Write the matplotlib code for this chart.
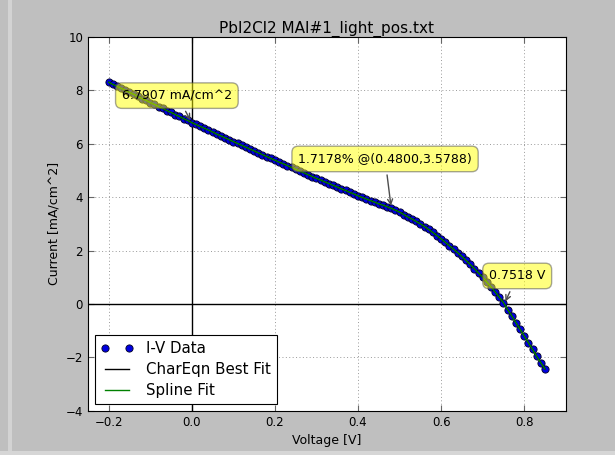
import numpy as np
import matplotlib
matplotlib.use("Agg")
import matplotlib.pyplot as plt
from matplotlib.patches import Rectangle

# ============================================================
# Données
# ============================================================
tension = np.round(np.arange(-0.20, 0.851, 0.01), 2)
courant = [
    8.30, 8.22, 8.15, 8.07, 8.00, 7.92, 7.85, 7.77, 7.69, 7.62,
    7.54, 7.47, 7.39, 7.32, 7.24, 7.17, 7.09, 7.02, 6.94, 6.87,
    6.79,
    6.72, 6.65, 6.58, 6.51, 6.44, 6.36, 6.29, 6.22, 6.15, 6.08,
    6.01, 5.94, 5.87, 5.80, 5.73, 5.66, 5.59, 5.52, 5.45, 5.38,
    5.31, 5.25, 5.18, 5.11, 5.04, 4.97, 4.91, 4.84, 4.77, 4.70,
    4.64, 4.57, 4.51, 4.44, 4.38, 4.31, 4.25, 4.18, 4.12, 4.05,
    3.99, 3.93, 3.87, 3.81, 3.75, 3.70, 3.64, 3.58, 3.51, 3.44,
    3.35, 3.26, 3.18, 3.09, 3.00, 2.90, 2.79, 2.68, 2.56, 2.44,
    2.31, 2.18, 2.05, 1.92, 1.78, 1.63, 1.48, 1.32, 1.16, 1.00,
    0.82, 0.64, 0.45, 0.25, 0.05, -0.21, -0.45, -0.70, -0.95, -1.20,
    -1.45, -1.70, -1.96, -2.20, -2.43,
]

jsc = 6.7907
voc = 0.7518
v_mpp, i_mpp = 0.4800, 3.5788
rendement = 1.7178

titre = "PbI2Cl2 MAI#1_light_pos.txt"

# ============================================================
# Figure
# ============================================================
fig = plt.figure(figsize=(6.15, 4.55), dpi=100, facecolor="#bfbfbf")
# bords de la fenêtre capturée
fig.add_artist(Rectangle((8 / 615, 0), 4 / 615, 1, transform=fig.transFigure,
                         color="#d3d3d3", lw=0, zorder=-1))
fig.add_artist(Rectangle((0, 0), 1, 4 / 455, transform=fig.transFigure,
                         color="#d6d6d6", lw=0, zorder=-1))

ax = fig.add_axes([0.143, 0.097, 0.777, 0.822])

ax.plot(tension, courant, "o", color="#0000e0", mec="#000022", mew=0.6,
        ms=5.2, label="I-V Data", zorder=3)
ax.plot(tension, courant, "-", color="k", lw=1, label="CharEqn Best Fit", zorder=4)
ax.plot(tension, courant, "-", color="g", lw=1, label="Spline Fit", zorder=5)

ax.axhline(0, color="k", lw=1, zorder=2)
ax.axvline(0, color="k", lw=1, zorder=2)

ax.set_xlim(-0.25, 0.9)
ax.set_ylim(-4, 10)
ax.set_xticks([-0.2, 0.0, 0.2, 0.4, 0.6, 0.8])
ax.set_yticks([-4, -2, 0, 2, 4, 6, 8, 10])
ax.grid(True, color="0.6", ls=(0, (1, 2.5)), lw=0.7)
ax.tick_params(direction="in", labelsize=8.5, top=True, right=True, length=4,
               color="0.4")

ax.set_xlabel("Voltage [V]", fontsize=9)
ax.set_ylabel("Current [mA/cm^2]", fontsize=9)
ax.set_title(titre, fontsize=11, pad=3)

boite = dict(boxstyle="round,pad=0.5", fc="yellow", ec="0.3", alpha=0.5)
fleche = dict(arrowstyle="->", color="0.3", connectionstyle="arc3,rad=0")

ax.annotate(f"{jsc:.4f} mA/cm^2", xy=(0, jsc), xytext=(-0.036, 7.8),
            ha="center", va="center", fontsize=9, bbox=boite, arrowprops=fleche, zorder=6)
ax.annotate(f"{rendement:.4f}% @({v_mpp:.4f},{i_mpp:.4f})", xy=(v_mpp, i_mpp),
            xytext=(0.465, 5.43), ha="center", va="center", fontsize=9,
            bbox=boite, arrowprops=fleche, zorder=6)
ax.annotate(f"{voc:.4f} V", xy=(voc, 0), xytext=(0.783, 1.05),
            ha="center", va="center", fontsize=9, bbox=boite, arrowprops=fleche, zorder=6)

leg = ax.legend(loc="lower left", numpoints=2, fontsize=10.8, fancybox=False,
                framealpha=1, edgecolor="k", borderaxespad=0.45, handlelength=2.2,
                labelspacing=0.4, borderpad=0.4)
leg.get_frame().set_linewidth(0.8)

fig.savefig("out.png", dpi=100, facecolor=fig.get_facecolor())
